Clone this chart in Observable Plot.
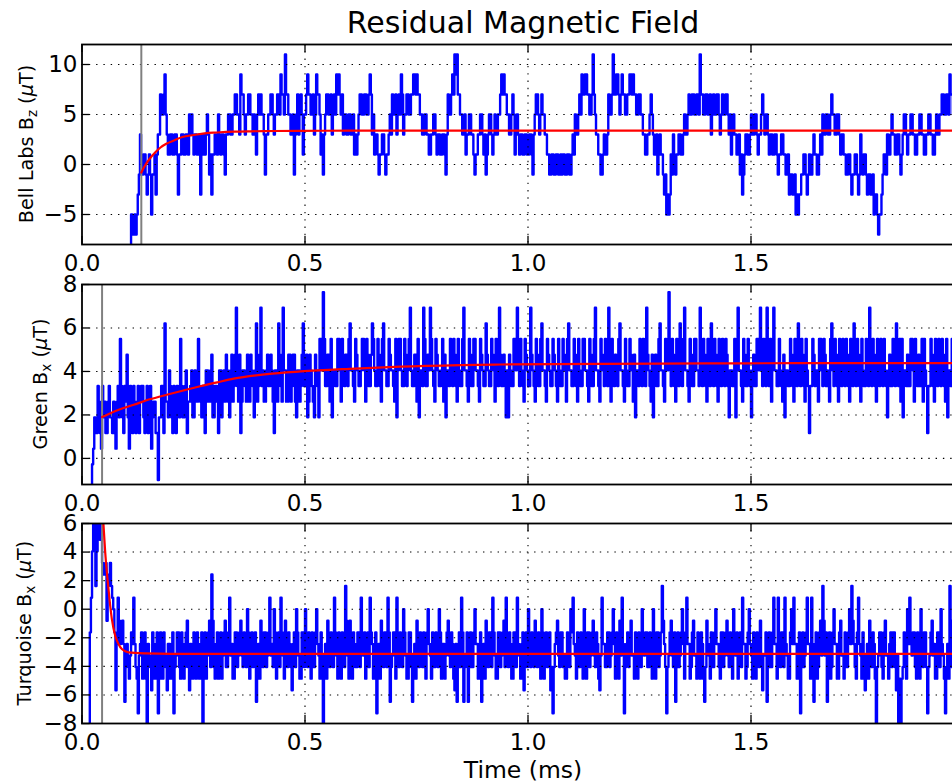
<!DOCTYPE html>
<html><head><meta charset="utf-8">
<script src="https://cdn.jsdelivr.net/npm/d3@7"></script>
<script src="https://cdn.jsdelivr.net/npm/@observablehq/plot@0.6"></script>
<style>
html,body{margin:0;padding:0;background:#fff;overflow:hidden;}
#chart{position:relative;width:952px;height:781px;overflow:hidden;background:#fff;}
</style></head><body><div id="chart"></div>
<script>
// ---------- shared ----------
const chartTitle = "Residual Magnetic Field";
const xLabel = "Time (ms)";
const xTicks = [0, 0.5, 1.0, 1.5, 2.0];
const xMax = 1.98;
const sampleStep = 0.0025; // ms between samples

// ---------- Bell Labs Bz (uT) ----------
const bellStart = 0.105;
const bellBz = [
-9,-9,-5,-7,-7,-5,-7,-5,-3,-1,3,-1,-1,1,1,-1,-3,-1,1,-1,
-5,-1,-1,1,-3,1,3,3,7,5,5,7,9,5,3,1,1,3,3,1,
1,3,3,1,-3,1,1,3,3,1,1,3,3,1,5,3,5,3,1,3,
3,1,1,3,-3,1,3,1,1,3,5,3,-1,1,-3,1,1,3,3,1,
5,3,1,3,3,1,-1,3,3,5,5,3,3,5,5,7,7,5,5,3,
9,7,7,5,3,5,5,7,7,5,5,3,5,3,1,5,7,5,7,5,
5,3,-1,3,3,5,5,7,7,5,3,5,5,7,7,5,9,7,7,5,
11,7,7,5,5,3,3,5,-1,3,5,7,3,5,7,5,1,5,5,7,
9,7,7,5,5,7,3,5,9,7,7,5,1,3,-1,3,5,7,7,5,
5,7,3,5,7,5,9,7,9,7,5,7,3,5,5,3,3,5,5,3,
3,5,1,3,1,3,5,7,7,5,5,7,7,5,5,7,9,7,3,5,
1,3,3,1,-1,1,1,3,3,1,-1,1,1,3,5,3,7,5,5,7,
3,5,7,5,9,7,3,5,5,7,7,5,5,7,7,9,9,7,9,7,
7,5,5,3,3,5,5,3,3,1,1,3,3,5,5,3,1,3,3,1,
1,3,3,1,-1,3,7,5,5,7,9,7,11,9,11,7,7,5,5,3,
3,5,1,3,3,5,5,3,3,1,-1,1,1,3,3,5,5,3,1,3,
-1,1,3,5,5,3,1,3,5,3,3,5,5,7,9,7,9,7,7,5,
5,3,3,5,7,5,1,3,5,3,1,3,3,1,1,3,3,1,1,3,
3,1,-1,3,5,7,7,5,3,5,7,5,5,3,3,1,1,-1,-1,1,
1,-1,-1,1,1,-1,-1,1,-1,1,1,-1,-1,1,1,-1,-1,1,3,1,
5,3,3,5,7,5,9,7,7,9,9,7,7,5,5,7,11,7,5,3,
3,1,1,-1,-1,1,3,1,1,3,7,5,5,7,11,7,7,9,9,7,
5,7,9,7,7,5,5,7,7,9,9,7,9,7,7,5,5,7,7,5,
5,3,3,1,1,3,3,5,7,5,3,1,1,3,-1,1,3,1,1,-1,
-3,-1,-5,-3,-5,-3,1,-1,3,1,-1,1,1,3,3,1,1,3,5,3,
3,5,7,5,5,7,7,5,5,7,7,5,11,7,7,5,5,7,7,5,
5,7,3,5,7,5,5,7,7,5,3,5,7,5,5,7,7,5,3,5,
1,3,5,3,3,1,1,3,-1,1,-3,-1,1,3,3,1,1,3,5,3,
3,5,5,3,1,3,3,5,7,5,3,5,5,3,1,3,3,1,1,3,
3,1,-1,1,1,3,3,1,1,-1,-1,1,-3,-1,-1,-3,-3,-1,-5,-3,
-5,-3,-3,-1,-1,1,1,-1,-3,-1,1,-1,-1,1,3,1,1,-1,-1,1,
3,1,5,3,3,5,5,3,3,5,7,5,5,3,3,5,5,3,1,3,
3,1,1,-1,-1,1,1,-1,-3,-1,-1,1,1,-1,-3,-1,3,1,-1,1,
1,-1,-3,-1,-1,-3,-3,-1,-5,-3,-3,-5,-7,-5,-5,-3,-1,1,1,-1,
3,1,1,3,5,3,3,1,1,3,3,1,-1,1,3,5,5,3,1,3,
3,5,5,3,3,1,1,3,3,5,5,3,3,1,1,3,3,5,5,3,
3,1,1,3,5,3,3,5,5,7,7,5,5,7,7,5,9,7,7,5,
5,7,7,5,5,3,3,5,5,7,7,5,5,3,3,5,5,3,3,5
];
const bellFitT = [0.133, 0.14, 0.154, 0.165, 0.176, 0.19, 0.206, 0.225, 0.251, 0.275, 0.303, 0.34, 0.378, 0.43, 0.49, 0.6, 1.0, 1.5, 2.0];
const bellFitV = [-0.8, -0.2, 0.7, 1.25, 1.7, 2.1, 2.4, 2.75, 2.95, 3.12, 3.2, 3.28, 3.32, 3.35, 3.37, 3.38, 3.38, 3.38, 3.38];
const bellMarker = 0.133;
const bellTicks = [-5, 0, 5, 10];
const bellDomain = [-8, 12];

// ---------- Green Bx (ADC counts -> uT) ----------
const greenStart = 0.02;
const greenLsb = 0.72, greenOffset = -0.27;
const greenCounts = [
-2,0,1,3,2,2,5,4,2,1,5,3,4,2,2,4,5,3,3,2,
4,2,1,4,5,3,8,5,3,2,5,4,7,3,1,5,4,2,5,4,
2,4,5,2,4,5,5,3,2,4,5,2,3,5,1,3,4,4,2,2,
-1,3,3,5,5,2,9,4,4,3,6,5,3,2,5,4,2,5,4,3,
8,5,3,3,5,6,2,4,4,5,6,3,3,6,5,4,8,5,4,3,
5,3,2,6,6,4,4,6,7,3,3,5,5,4,2,6,6,3,5,6,
4,7,6,4,3,6,7,4,5,7,10,5,4,7,2,4,6,6,5,4,
7,4,4,7,6,5,3,6,9,4,5,7,10,5,6,4,4,6,7,5,
5,7,6,4,2,6,6,4,9,7,5,4,10,6,6,4,4,7,7,4,
5,7,7,4,3,6,6,4,5,7,9,5,6,7,3,4,7,6,5,4,
3,7,6,5,3,8,8,6,11,8,5,5,7,7,4,8,3,6,6,5,
5,8,8,6,4,8,6,5,7,7,5,8,9,6,6,5,4,8,7,6,
5,5,6,8,8,6,4,8,7,5,5,7,9,8,6,5,5,8,7,5,
4,8,9,6,6,5,5,8,7,6,6,5,4,8,3,6,8,8,6,5,
5,8,7,5,6,8,10,6,5,5,7,7,4,8,3,6,6,5,10,8,
5,5,7,6,10,8,6,5,4,8,7,6,5,5,6,8,4,7,3,6,
6,5,8,7,5,8,7,5,4,8,6,5,5,8,10,6,6,5,4,8,
7,5,5,8,8,6,6,5,4,8,7,6,5,5,9,7,6,5,5,8,
7,6,4,8,6,5,10,7,5,5,7,6,3,6,3,7,6,5,5,8,
8,6,10,7,5,8,6,5,4,8,7,6,5,5,10,7,6,5,4,8,
7,5,5,8,9,6,6,5,4,8,7,6,5,5,8,7,6,5,4,8,
6,5,5,8,7,6,4,8,9,6,6,5,5,8,7,5,4,8,6,5,
5,8,8,6,6,5,4,8,7,5,5,8,10,6,6,5,4,8,7,6,
5,8,6,5,10,7,4,8,6,5,7,6,5,8,9,6,6,5,4,8,
6,5,5,8,7,6,4,7,3,6,6,5,8,7,5,8,7,5,10,7,
6,5,4,7,3,6,7,5,5,8,9,6,6,5,4,8,7,6,11,7,
5,8,7,5,4,8,6,5,9,6,5,8,10,6,6,5,4,8,7,5,
5,8,8,6,6,5,10,7,5,8,7,5,4,8,6,5,9,6,5,8,
7,5,4,8,6,5,8,6,5,8,7,5,3,6,6,5,5,8,3,6,
10,6,6,5,4,8,7,5,5,8,6,5,3,6,7,5,5,8,8,6,
10,7,5,8,6,5,10,7,5,8,4,8,10,6,6,5,5,8,6,5,
4,7,3,6,6,5,5,8,7,5,4,8,6,5,9,6,5,8,7,5,
4,8,6,5,2,5,5,8,7,5,6,6,4,8,8,6,5,8,7,5,
6,5,4,8,9,6,5,8,7,5,4,8,6,5,8,6,5,8,7,5,
4,8,6,5,9,6,5,8,7,5,4,8,6,5,5,8,7,5,10,7,
5,8,7,5,4,8,6,5,8,6,5,8,6,5,3,6,7,5,5,8,
6,5,9,6,5,8,4,8,3,6,6,5,7,5,5,8,8,6,4,8,
6,5,7,5,5,8,4,8,6,5,2,5,5,8,7,5,4,8,6,5,
8,6,5,8,7,5,4,8,3,6,6,5,8,6,5,8,7,5,6,5,
4,8,7,5,5,8,9,6,6,5,4,8,7,5,5,8,6,5,4,8
];
const greenFitT = [0.045, 0.071, 0.093, 0.116, 0.154, 0.19, 0.228, 0.265, 0.303, 0.34, 0.415, 0.49, 0.6, 0.714, 0.85, 0.938, 1.162, 1.4, 1.6, 2.0];
const greenFitV = [1.9, 2.15, 2.32, 2.47, 2.73, 2.93, 3.13, 3.32, 3.5, 3.67, 3.88, 4.0, 4.12, 4.22, 4.29, 4.32, 4.35, 4.37, 4.38, 4.38];
const greenMarker = 0.045;
const greenTicks = [0, 2, 4, 6, 8];
const greenDomain = [-1.2, 8];

// ---------- Turquoise Bx (ADC counts -> uT) ----------
const turqStart = 0.015;
const turqLsb = 0.81, turqOffset = 0;
const turqCounts = [
-10,-2,1,5,8,8,2,5,8,7,6,8,4,3,3,4,-1,2,3,4,
2,1,0,-2,-7,-3,1,-1,-3,-2,-1,-3,-8,-5,-3,-4,-6,-4,-2,-3,
1,-3,-5,-6,-9,-4,-3,-2,-6,-5,-2,-6,-10,-3,-4,-5,-7,-2,-3,-6,
-5,-2,-9,-5,-2,-6,-6,-2,-4,-5,-7,-3,-3,-6,-5,-2,-9,-5,-4,-2,
-2,-5,-6,-2,-3,-6,-5,-2,-1,-5,-7,-3,-4,-6,-2,-5,-6,-2,-3,-6,
-5,-2,-10,-5,-2,-6,-4,-2,-1,-5,3,-1,-5,-6,-3,-2,-6,-5,-2,-6,
-4,-2,-1,-5,-5,-2,1,-4,-3,-6,-6,-2,-2,-5,-4,-2,-1,-4,-5,-2,
-3,-5,0,-2,-6,-3,-2,-5,-4,-2,-8,-5,-3,-6,-1,-2,-5,-2,-2,-5,
-4,-2,1,-4,-3,-5,0,-2,-6,-3,-2,-5,1,-2,-4,-6,-1,-3,-5,-2,
-3,-5,-7,-3,-2,-5,0,-2,-4,-6,-6,-2,-2,-5,0,-2,-5,-2,-3,-6,
-2,-5,-5,-2,0,-3,-4,-6,-2,-5,-10,-4,-3,-6,-1,-2,-5,-2,-3,-5,
1,-2,-4,-6,-2,-5,-6,-2,-3,-5,2,-1,-4,-6,-1,-3,-6,-2,-3,-5,
-5,-2,-2,-5,1,-3,-4,-2,-6,-3,-2,-5,1,-2,-3,-6,-5,-2,-9,-5,
-3,-6,-1,-3,-5,-2,-2,-5,1,-2,-8,-5,-4,-2,-2,-6,1,-3,-5,-2,
-3,-5,0,-2,-4,-6,-6,-2,-2,-5,-8,-4,-3,-6,-1,-2,-5,-2,-3,-5,
-2,-5,-6,-2,0,-3,-4,-6,-2,-5,-5,-2,-3,-5,0,-2,-6,-3,-3,-6,
-4,-2,-1,-4,-5,-2,-3,-6,-7,-3,-8,-5,-2,-5,1,-2,-8,-5,-4,-2,
-8,-5,-2,-5,-5,-2,0,-3,-3,-6,-6,-2,-8,-5,-3,-6,-1,-3,-5,-2,
-2,-5,1,-2,-4,-6,-6,-2,-2,-5,-4,-2,-1,-5,1,-3,-5,-2,-3,-6,
-6,-2,-2,-5,1,-3,-4,-6,-3,-2,-7,-4,-2,-5,0,-2,-5,-2,-3,-5,
-1,-3,-5,-2,-3,-6,0,-2,-6,-3,-2,-5,-4,-2,-7,-5,-9,-5,-3,-2,
-1,-4,-5,-2,-2,-5,-4,-6,-6,-2,-3,-5,0,-2,1,-3,-4,-6,-2,-5,
-5,-2,-3,-6,0,-3,-6,-2,-2,-5,-4,-2,-1,-4,-5,-2,-3,-6,-7,-4,
1,-3,-3,-5,-5,-2,-2,-5,-4,-2,0,-3,-6,-2,-3,-6,-1,-4,1,-3,
-9,-5,-3,-2,-5,-2,-1,-4,-4,-6,-2,-5,-6,-2,-3,-5,0,-3,-4,-2,
-2,-5,-5,-2,-3,-6,0,-3,-6,-2,-2,-5,-4,-2,2,-1,-3,-5,-9,-5,
-4,-2,-1,-4,-5,-2,-8,-5,-2,-5,-4,-2,0,-3,-6,-2,1,-3,-3,-6,
-5,-2,-1,-4,-4,-6,-2,-5,-6,-2,-3,-6,-8,-5,-1,-3,-4,-6,-2,-5,
-5,-2,0,-3,-3,-5,-6,-2,-2,-5,-4,-2,-1,-4,-5,-2,-3,-6,0,-3,
-4,-2,-6,-3,-2,-5,1,-3,-3,-6,-5,-2,0,-3,-4,-6,-2,-5,-6,-2,
-3,-5,-1,-4,-7,-4,-4,-2,-8,-5,-2,-5,-5,-2,1,-3,-3,-6,1,-3,
-5,-2,-2,-5,1,-3,-4,-6,-6,-2,0,-3,1,-3,-3,-6,-5,-2,-9,-5,
-2,-5,-4,-2,1,-3,-3,-6,1,-3,-8,-5,-2,-6,-5,-2,-1,-4,2,-1,
-4,-2,-8,-5,-2,-6,-5,-2,0,-3,-3,-6,-6,-2,-1,-4,-4,-6,-2,-5,
-5,-2,0,-3,2,-1,-3,-5,-6,-2,1,-3,-4,-6,-2,-5,-7,-4,-3,-6,
-1,-4,-5,-2,-3,-6,-10,-5,-4,-2,-2,-5,-6,-2,-1,-4,-4,-6,-3,-2,
-5,-2,-2,-5,-7,-4,-10,-6,-10,-6,-5,-2,-3,-6,0,-3,1,-3,-4,-2,
-2,-5,-6,-2,-3,-6,0,-3,-5,-2,-2,-5,-9,-5,-4,-2,-1,-4,-3,-6,
-6,-2,-2,-5,0,-3,-4,-6,-9,-5,-3,-6,2,-1,-5,-2,-2,-5,-4,-2,
-1,-4,-5,-2,-3,-6,0,-3,-6,-2,-2,-5,-4,-6,-1,-3,-5,-2,-3,-5
];
const turqFitT = [0.046, 0.048, 0.052, 0.0557, 0.0594, 0.0632, 0.0669, 0.0744, 0.0818, 0.0893, 0.104, 0.142, 0.2, 2.0];
const turqFitV = [7.1, 6.0, 4.0, 2.6, 1.43, 0.25, -0.68, -1.85, -2.44, -2.79, -3.02, -3.09, -3.12, -3.12];
const turqMarker = 0.045;
const turqTicks = [-8, -6, -4, -2, 0, 2, 4, 6];
const turqDomain = [-8, 6];

// ---------- layout ----------
const W = 1000, H = 240, ML = 81.5, MT = 10, MB = 30;
const MR = W - (ML + xMax * 446);
const FW = W - ML - MR, FH = H - MT - MB;
const fmtY = d => d < 0 ? "\u2212" + Math.abs(d) : String(d);

function makePanel(p) {
  const series = p.values.map((v, i) => ({t: p.start + i * sampleStep, v}));
  const fit = p.fitT.map((t, i) => ({t, v: p.fitV[i]}));
  const xIn = xTicks.filter(d => d <= xMax);
  const svg = Plot.plot({
    width: W, height: H,
    marginLeft: ML, marginRight: MR, marginTop: MT, marginBottom: MB,
    style: {fontFamily: "DejaVu Sans", fontSize: "23px", background: "transparent", color: "black", maxWidth: "none", overflow: "visible"},
    x: {domain: [0, xMax], ticks: xIn, tickFormat: d => d.toFixed(1), tickSize: 0, tickPadding: 10.5, label: null},
    y: {domain: p.domain, ticks: p.ticks, tickFormat: fmtY, tickSize: 0, tickPadding: 4.5, label: null},
    marks: [
      Plot.line(series, {x: "t", y: "v", stroke: "#0000ff", strokeWidth: 2.4, curve: "step-after", clip: true}),
      Plot.ruleY(p.ticks, {stroke: "black", strokeWidth: 1.1, strokeDasharray: "1.4,5.9"}),
      Plot.ruleX(xIn.filter(d => d > 0), {stroke: "black", strokeWidth: 1.1, strokeDasharray: "1.4,5.9"}),
      Plot.ruleX([p.marker], {stroke: "#808080", strokeWidth: 2}),
      Plot.line(fit, {x: "t", y: "v", stroke: "#ff0000", strokeWidth: 2.2, curve: "monotone-x", clip: true}),
      Plot.ruleY(p.ticks, {stroke: "black", strokeWidth: 1.3, insetRight: FW - 8}),
      Plot.ruleY(p.ticks, {stroke: "black", strokeWidth: 1.3, insetLeft: FW - 8}),
      Plot.ruleX(xIn, {stroke: "black", strokeWidth: 1.3, insetTop: FH - 8}),
      Plot.ruleX(xIn, {stroke: "black", strokeWidth: 1.3, insetBottom: FH - 8}),
      Plot.frame({stroke: "black", strokeWidth: 1.8})
    ]
  });
  svg.style.position = "absolute";
  svg.style.left = "0px";
  svg.style.top = p.top + "px";
  // rotated y label with subscript and italic mu
  const t = d3.select(svg).append("text")
    .attr("transform", `translate(${p.labelX},${MT + FH / 2}) rotate(-90)`)
    .attr("text-anchor", "middle")
    .attr("font-family", "DejaVu Sans")
    .attr("font-size", 19.3)
    .attr("fill", "black");
  t.append("tspan").text(p.labelMain + " B");
  t.append("tspan").attr("font-size", 13.5).attr("dy", 4).text(p.labelSub);
  t.append("tspan").attr("dy", -4).text(" (");
  t.append("tspan").attr("font-style", "italic").text("\u03bc");
  t.append("tspan").text("T)");
  return svg;
}

const chart = document.getElementById("chart");
const panels = [
  {values: bellBz, start: bellStart, fitT: bellFitT, fitV: bellFitV, marker: bellMarker, ticks: bellTicks, domain: bellDomain, top: 33.5, labelX: 33, labelMain: "Bell Labs", labelSub: "z"},
  {values: greenCounts.map(c => c * greenLsb + greenOffset), start: greenStart, fitT: greenFitT, fitV: greenFitV, marker: greenMarker, ticks: greenTicks, domain: greenDomain, top: 273.5, labelX: 47, labelMain: "Green", labelSub: "x"},
  {values: turqCounts.map(c => c * turqLsb + turqOffset), start: turqStart, fitT: turqFitT, fitV: turqFitV, marker: turqMarker, ticks: turqTicks, domain: turqDomain, top: 512.7, labelX: 31, labelMain: "Turquoise", labelSub: "x"}
];
for (const p of panels) chart.appendChild(makePanel(p));

// title and shared x label
const overlay = d3.select(chart).append("svg")
  .attr("width", 952).attr("height", 781)
  .style("position", "absolute").style("left", "0px").style("top", "0px")
  .style("pointer-events", "none");
const centerX = ML + xMax * 446 / 2;
overlay.append("text").attr("x", centerX).attr("y", 33.3)
  .attr("text-anchor", "middle").attr("font-family", "DejaVu Sans").attr("font-size", 30)
  .attr("fill", "black").text(chartTitle);
overlay.append("text").attr("x", centerX).attr("y", 778)
  .attr("text-anchor", "middle").attr("font-family", "DejaVu Sans").attr("font-size", 23.5)
  .attr("fill", "black").text(xLabel);
</script>
</body></html>
